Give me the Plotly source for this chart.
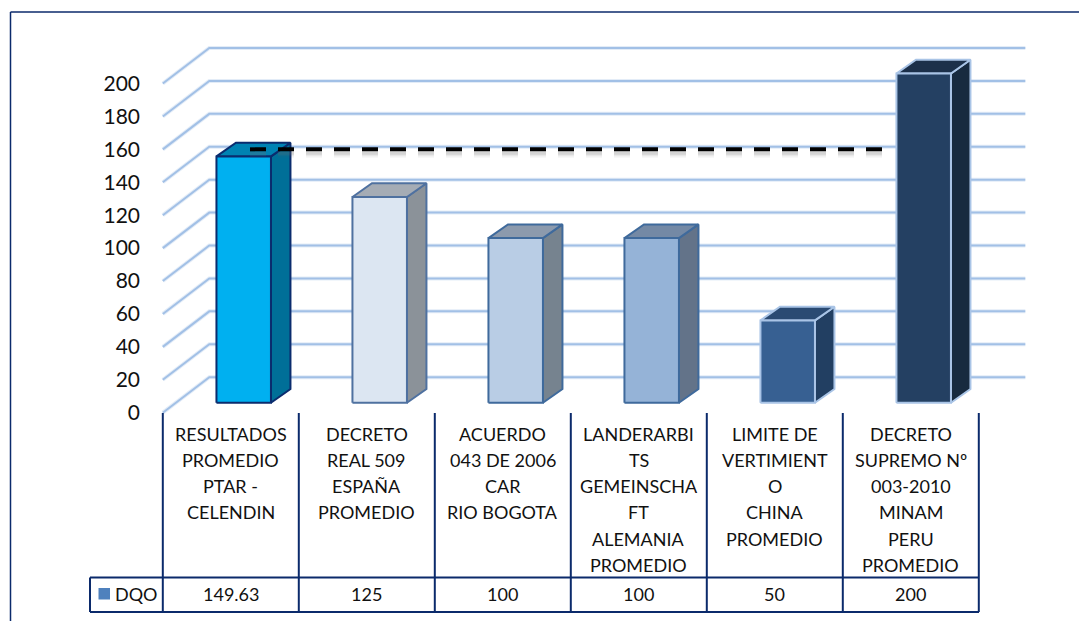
import plotly.graph_objects as go

# datos del grafico
CATEGORY_LINES = [
    ["RESULTADOS", "PROMEDIO", "PTAR -", "CELENDIN"],
    ["DECRETO", "REAL 509", "ESPAÑA", "PROMEDIO"],
    ["ACUERDO", "043 DE 2006", "CAR", "RIO BOGOTA"],
    ["LANDERARBI", "TS", "GEMEINSCHA", "FT", "ALEMANIA", "PROMEDIO"],
    ["LIMITE DE", "VERTIMIENT", "O", "CHINA", "PROMEDIO"],
    ["DECRETO", "SUPREMO Nº", "003-2010", "MINAM", "PERU", "PROMEDIO"],
]
DQO_VALUES = [149.63, 125, 100, 100, 50, 200]
Y_TICKS = [0, 20, 40, 60, 80, 100, 120, 140, 160, 180, 200]
LIMIT_VALUE = 160
SERIES_NAME = "DQO"

FRONT_COLORS = ["#00b0f0", "#dce6f2", "#b9cde5", "#95b3d7", "#376092", "#244062"]
SIDE_COLORS = ["#006f98", "#8b9299", "#76838f", "#637389", "#223f62", "#172a3f"]
TOP_COLORS = ["#0083b3", "#a5acb5", "#8c9aad", "#7489a5", "#2a4a72", "#1c304a"]
EDGE_COLORS = ["#0b2c6e", "#4f71a0", "#3f6a9c", "#3f6a9c", "#a9c4e6", "#a9c4e6"]

W, H = 1079, 621
COL_X0, COL_W = 230.8, 136.0   # centro de la primera columna y ancho, en px
Y0_PX, PX_PER_UNIT = 412.7, 1.646

# profundidad del "3D", pasada a unidades de los ejes
WALL_DX = 46.5 / COL_W
WALL_DY = 35.5 / PX_PER_UNIT
BAR_SHIFT_X = 12.9 / COL_W
BAR_SHIFT_Y = 10.0 / PX_PER_UNIT
BAR_W = 54.5 / COL_W
BAR_DX = 19.5 / COL_W
BAR_DY = 13.7 / PX_PER_UNIT

NAVY = "#0b2a6b"
GRID = "#a2c0e6"
FONT = "Lato"
n = len(DQO_VALUES)


def py(px):
    return 1 - px / H


fig = go.Figure()

# rejilla: diagonal en la pared lateral y horizontal en el fondo
gx, gy = [], []
for t in Y_TICKS:
    gx += [-0.5, -0.5 + WALL_DX, n - 0.5 + WALL_DX, None]
    gy += [t, t + WALL_DY, t + WALL_DY, None]
fig.add_trace(go.Scatter(x=gx, y=gy, mode="lines", hoverinfo="skip",
                         line=dict(color="rgba(162,192,230,0.3)", width=4)))
fig.add_trace(go.Scatter(x=gx, y=gy, mode="lines", hoverinfo="skip",
                         line=dict(color=GRID, width=2)))


def face(xs, ys, fill, edge):
    fig.add_trace(go.Scatter(x=xs, y=ys, mode="lines", fill="toself", fillcolor=fill,
                             hoverinfo="skip", line=dict(color=edge, width=2)))


for i, v in enumerate(DQO_VALUES):
    left = i + BAR_SHIFT_X - BAR_W / 2
    right = left + BAR_W
    base = BAR_SHIFT_Y
    top = v + BAR_SHIFT_Y
    # cara lateral, tapa y frente
    face([right, right + BAR_DX, right + BAR_DX, right, right],
         [base, base + BAR_DY, top + BAR_DY, top, base], SIDE_COLORS[i], EDGE_COLORS[i])
    face([left, left + BAR_DX, right + BAR_DX, right, left],
         [top, top + BAR_DY, top + BAR_DY, top, top], TOP_COLORS[i], EDGE_COLORS[i])
    face([left, right, right, left, left],
         [base, base, top, top, base], FRONT_COLORS[i], EDGE_COLORS[i])

# linea limite con su sombra difusa
lim_x = [(250 - COL_X0) / COL_W, (885 - COL_X0) / COL_W]
shadow = 4 / PX_PER_UNIT
for sw, alpha in [(9, 0.06), (6, 0.1), (3, 0.16)]:
    fig.add_trace(go.Scatter(x=lim_x, y=[LIMIT_VALUE - shadow] * 2, mode="lines", hoverinfo="skip",
                             line=dict(color=f"rgba(110,110,110,{alpha})", width=sw, dash="16px,12px")))
fig.add_trace(go.Scatter(x=lim_x, y=[LIMIT_VALUE] * 2, mode="lines", hoverinfo="skip",
                         line=dict(color="#000000", width=4, dash="16px,12px")))

# tabla de datos debajo del grafico
shapes = []


def add_line(x0, y0, x1, y1, xref="x", width=2):
    shapes.append(dict(type="line", xref=xref, yref="paper", x0=x0, x1=x1, y0=py(y0), y1=py(y1),
                       line=dict(color=NAVY, width=width)))


for i in range(n + 1):
    add_line(i - 0.5, 413, i - 0.5, 612)
add_line(90 / W, 577.5, 979 / W, 577.5, xref="paper")
add_line(90 / W, 612, 979 / W, 612, xref="paper")
add_line(90 / W, 577.5, 90 / W, 612, xref="paper")

# marco exterior (solo izquierda y arriba)
shapes.append(dict(type="line", xref="paper", yref="paper", x0=10.5 / W, x1=10.5 / W, y0=0, y1=py(12),
                   line=dict(color=NAVY, width=1.5)))
shapes.append(dict(type="line", xref="paper", yref="paper", x0=10.5 / W, x1=1, y0=py(12), y1=py(12),
                   line=dict(color=NAVY, width=1.5)))
# cuadro de la leyenda
shapes.append(dict(type="rect", xref="paper", yref="paper", x0=98.5 / W, x1=110 / W, y0=py(588), y1=py(599.5),
                   fillcolor="#4f81bd", line=dict(width=0)))

annotations = []


def label(x, px_y, text, xref="x", xanchor="center"):
    annotations.append(dict(x=x, y=py(px_y), xref=xref, yref="paper", text=text, showarrow=False,
                            xanchor=xanchor, yanchor="middle", font=dict(family=FONT, size=18, color="#111111")))


for i, lines in enumerate(CATEGORY_LINES):
    for k, line in enumerate(lines):
        label(i, 433.5 + 26.3 * k, line)
    label(i, 594, f"{DQO_VALUES[i]:g}")
label(112.5 / W, 594, SERIES_NAME, xref="paper", xanchor="left")

fig.update_layout(
    width=W, height=H, margin=dict(l=0, r=0, t=0, b=0),
    paper_bgcolor="white", plot_bgcolor="white", showlegend=False,
    shapes=shapes, annotations=annotations,
    xaxis=dict(visible=False, range=[-COL_X0 / COL_W, (W - COL_X0) / COL_W], domain=[0, 1]),
    yaxis=dict(range=[(Y0_PX - H) / PX_PER_UNIT, Y0_PX / PX_PER_UNIT], domain=[0, 1],
               anchor="free", position=140 / W, tickvals=Y_TICKS, showgrid=False, zeroline=False,
               showline=False, ticks="", tickfont=dict(family=FONT, size=21, color="#111111")),
)

# quitar el margen por defecto del body para que el grafico empiece en 0,0
fig.write_html("out.html", config=dict(displayModeBar=False),
               post_script="document.body.style.margin='0';document.body.style.overflow='hidden';")
